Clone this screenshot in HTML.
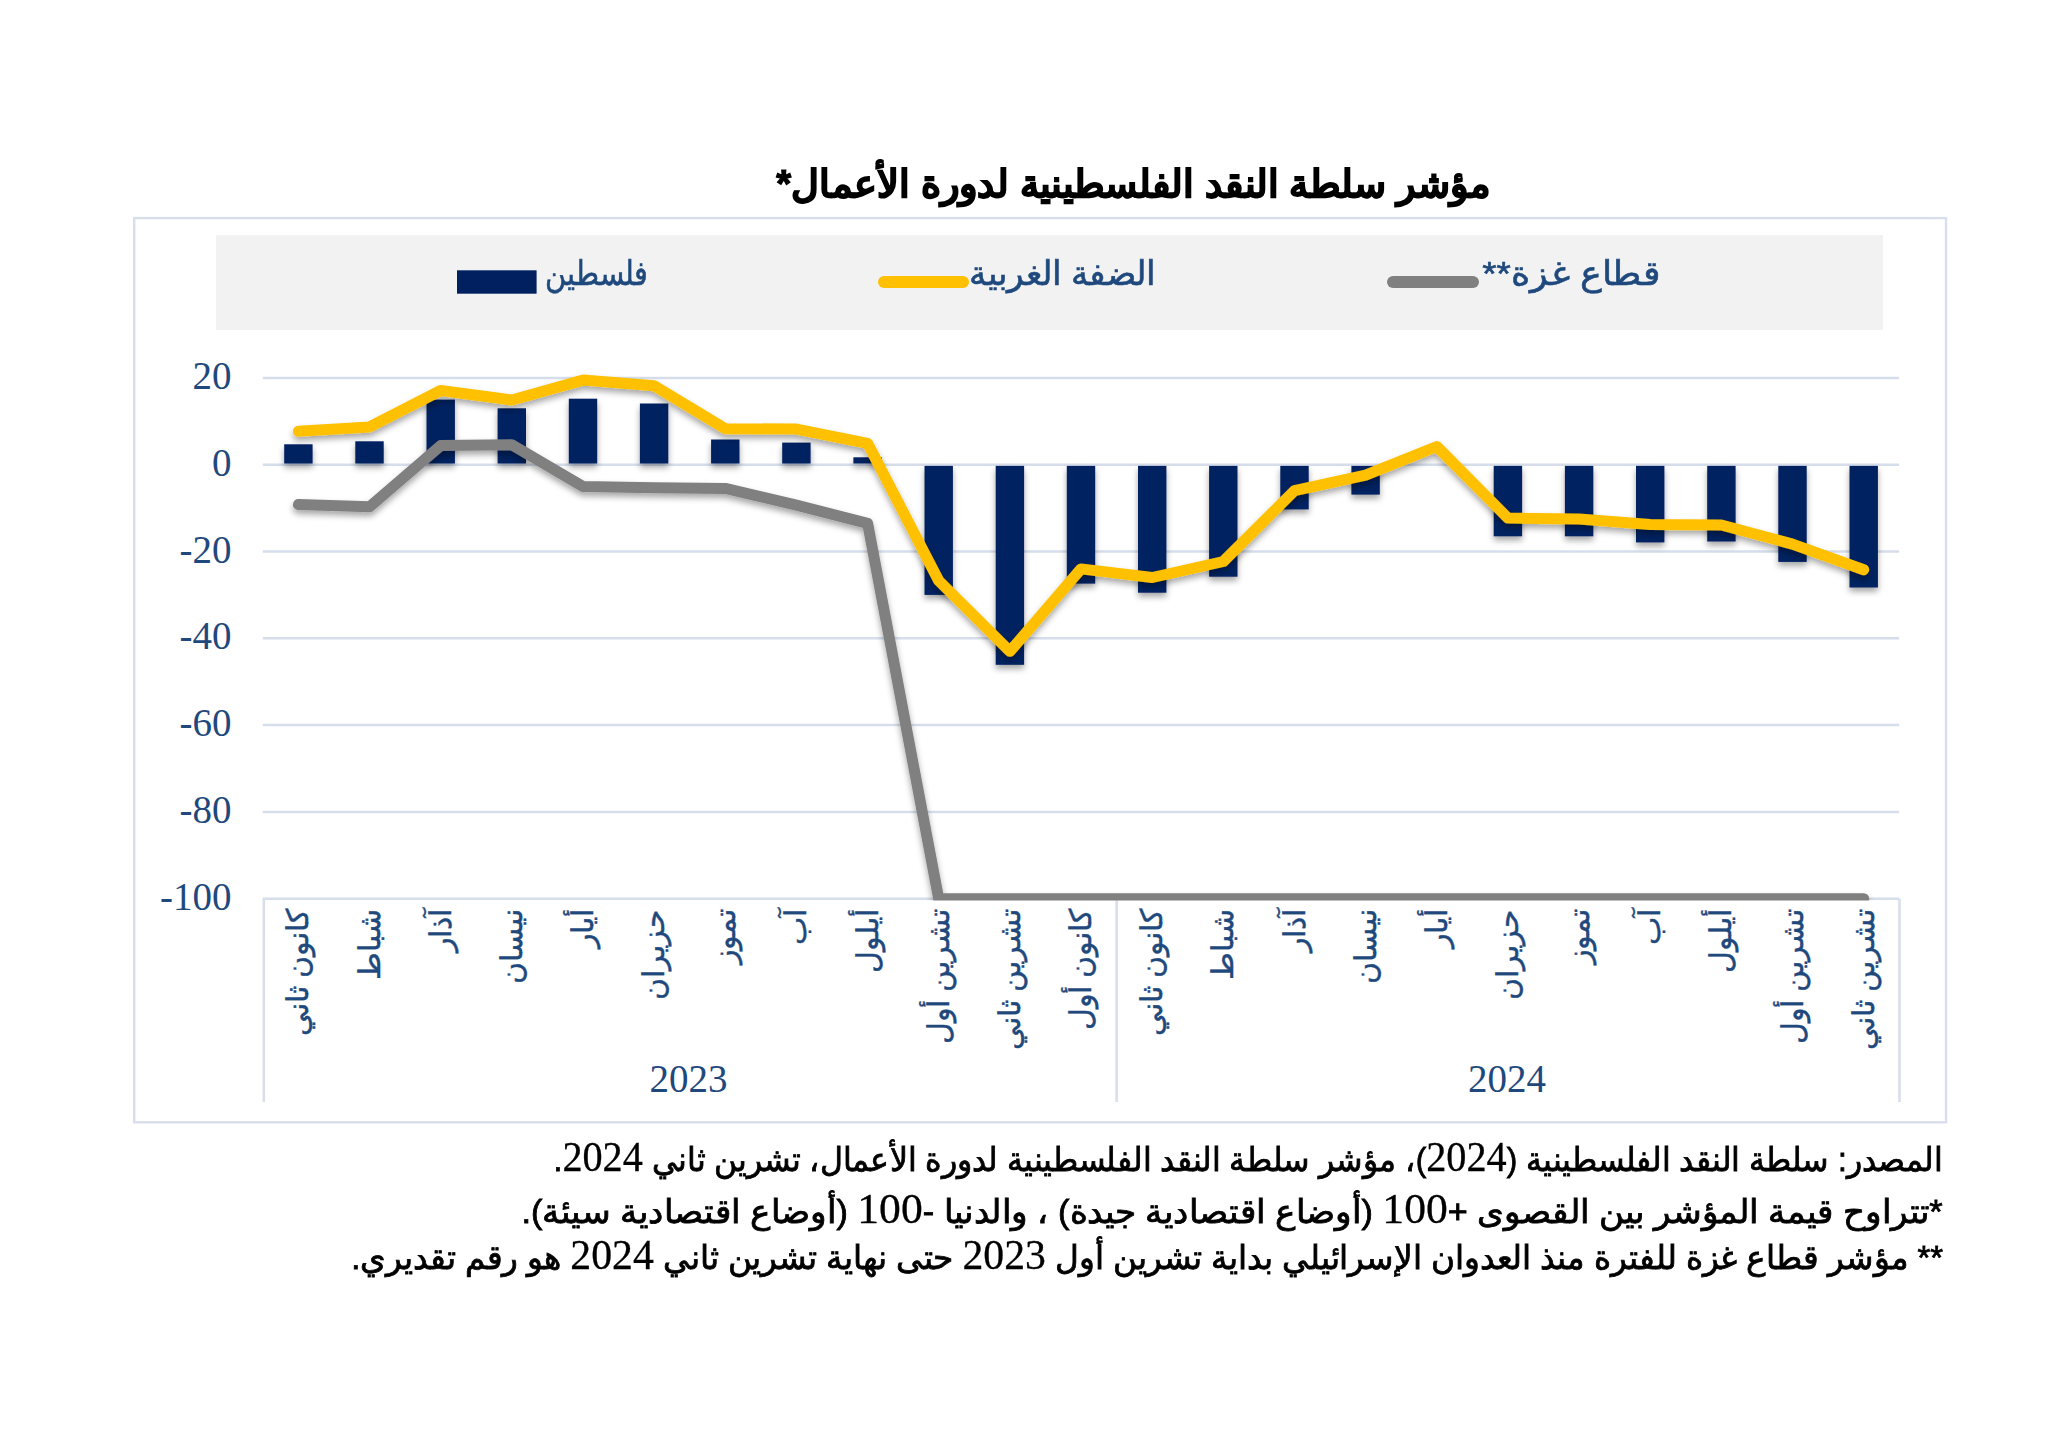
<!DOCTYPE html>
<html lang="ar"><head><meta charset="utf-8"><title>chart</title>
<style>
html,body{margin:0;padding:0;background:#fff;}
body{width:2048px;height:1436px;position:relative;overflow:hidden;font-family:"Liberation Sans",sans-serif;}
svg{position:absolute;left:0;top:0;}
.t{position:absolute;white-space:nowrap;}
.ar{direction:rtl;unicode-bidi:isolate;}
.num{font-family:"Liberation Serif",serif;color:#1F497D;font-size:39px;line-height:38px;text-align:right;width:120px;direction:ltr;}
.xl{position:absolute;left:0;top:0;width:300px;height:40px;line-height:40px;text-align:right;direction:rtl;white-space:nowrap;transform-origin:0 0;color:#1F497D;font-size:29.5px;-webkit-text-stroke:0.4px #1F497D;}
.leg{color:#1F497D;font-size:34px;line-height:44px;transform-origin:100% 50%;-webkit-text-stroke:0.6px #1F497D;}
.yr{font-family:"Liberation Serif",serif;color:#1F497D;font-size:39px;line-height:38px;}
.fn{color:#000;font-size:33px;line-height:44px;right:105px;text-align:right;-webkit-text-stroke:0.8px #000;transform-origin:100% 50%;}
.fn .d{font-family:"Liberation Serif",serif;font-size:42px;-webkit-text-stroke:0.3px #000;}
</style></head><body>

<svg width="2048" height="1436" viewBox="0 0 2048 1436"><defs><filter id="sh" x="-20%" y="-20%" width="140%" height="140%"><feDropShadow dx="0" dy="4" stdDeviation="3" flood-color="#000" flood-opacity="0.35"/></filter><clipPath id="pc"><rect x="0" y="0" width="2048" height="900.6"/></clipPath></defs><rect x="134.2" y="218.1" width="1811.8" height="904.1999999999999" fill="none" stroke="#D9DFEA" stroke-width="2.4"/><rect x="216" y="235" width="1667" height="95" fill="#F2F2F2"/><line x1="262.8" y1="377.9" x2="1899.2" y2="377.9" stroke="#D6DEEB" stroke-width="2.5"/><line x1="262.8" y1="464.7" x2="1899.2" y2="464.7" stroke="#D6DEEB" stroke-width="2.5"/><line x1="262.8" y1="551.5" x2="1899.2" y2="551.5" stroke="#D6DEEB" stroke-width="2.5"/><line x1="262.8" y1="638.3" x2="1899.2" y2="638.3" stroke="#D6DEEB" stroke-width="2.5"/><line x1="262.8" y1="725.1" x2="1899.2" y2="725.1" stroke="#D6DEEB" stroke-width="2.5"/><line x1="262.8" y1="811.9" x2="1899.2" y2="811.9" stroke="#D6DEEB" stroke-width="2.5"/><line x1="262.8" y1="898.7" x2="1899.2" y2="898.7" stroke="#D6DEEB" stroke-width="2.5"/><line x1="263.8" y1="898.7" x2="263.8" y2="1102" stroke="#D9DEEC" stroke-width="2.6"/><line x1="1116.6" y1="898.7" x2="1116.6" y2="1102" stroke="#D9DEEC" stroke-width="2.6"/><line x1="1899.5" y1="898.7" x2="1899.5" y2="1102" stroke="#D9DEEC" stroke-width="2.6"/><g clip-path="url(#pc)"><g filter="url(#sh)"><rect x="284.2" y="444.3" width="28.4" height="19.2" fill="#002060"/><rect x="355.3" y="441.3" width="28.4" height="22.2" fill="#002060"/><rect x="426.5" y="399.6" width="28.4" height="63.9" fill="#002060"/><rect x="497.6" y="408.3" width="28.4" height="55.2" fill="#002060"/><rect x="568.8" y="398.7" width="28.4" height="64.8" fill="#002060"/><rect x="639.9" y="403.5" width="28.4" height="60.0" fill="#002060"/><rect x="711.1" y="439.5" width="28.4" height="24.0" fill="#002060"/><rect x="782.2" y="442.6" width="28.4" height="20.9" fill="#002060"/><rect x="853.4" y="457.3" width="28.4" height="6.2" fill="#002060"/><rect x="924.5" y="465.9" width="28.4" height="129.0" fill="#002060"/><rect x="995.7" y="465.9" width="28.4" height="198.9" fill="#002060"/><rect x="1066.8" y="465.9" width="28.4" height="117.7" fill="#002060"/><rect x="1138.0" y="465.9" width="28.4" height="126.8" fill="#002060"/><rect x="1209.1" y="465.9" width="28.4" height="110.8" fill="#002060"/><rect x="1280.3" y="465.9" width="28.4" height="43.5" fill="#002060"/><rect x="1351.4" y="465.9" width="28.4" height="28.7" fill="#002060"/><rect x="1493.7" y="465.9" width="28.4" height="70.4" fill="#002060"/><rect x="1564.9" y="465.9" width="28.4" height="70.4" fill="#002060"/><rect x="1636.0" y="465.9" width="28.4" height="76.5" fill="#002060"/><rect x="1707.2" y="465.9" width="28.4" height="75.6" fill="#002060"/><rect x="1778.3" y="465.9" width="28.4" height="96.0" fill="#002060"/><rect x="1849.5" y="465.9" width="28.4" height="121.6" fill="#002060"/></g><polyline points="298.4,504.6 369.5,506.8 440.7,445.6 511.8,444.7 583.0,486.4 654.1,487.7 725.3,488.4 796.4,505.1 867.6,523.3 938.7,898.7 1009.9,898.7 1081.0,898.7 1152.2,898.7 1223.3,898.7 1294.5,898.7 1365.6,898.7 1436.8,898.7 1507.9,898.7 1579.1,898.7 1650.2,898.7 1721.4,898.7 1792.5,898.7 1863.7,898.7" fill="none" stroke="#808080" stroke-width="11" stroke-linejoin="round" stroke-linecap="round" filter="url(#sh)"/><polyline points="298.4,431.3 369.5,426.9 440.7,390.5 511.8,400.0 583.0,380.1 654.1,385.7 725.3,428.7 796.4,429.1 867.6,443.4 938.7,580.6 1009.9,651.3 1081.0,568.9 1152.2,577.5 1223.3,561.5 1294.5,490.7 1365.6,475.1 1436.8,446.5 1507.9,518.1 1579.1,519.0 1650.2,524.6 1721.4,525.0 1792.5,544.1 1863.7,569.7" fill="none" stroke="#FFC000" stroke-width="11" stroke-linejoin="round" stroke-linecap="round" filter="url(#sh)"/></g><line x1="1393" y1="282" x2="1473" y2="282" stroke="#808080" stroke-width="12" stroke-linecap="round"/><line x1="884" y1="282" x2="963" y2="282" stroke="#FFC000" stroke-width="12" stroke-linecap="round"/><rect x="457" y="270.3" width="79.6" height="23.4" fill="#002060"/></svg>
<div class="t ar" style="right:557.7px;top:159px;font-size:38px;line-height:50px;font-weight:bold;color:#000;-webkit-text-stroke:1.2px #000;transform-origin:100% 50%;transform:scaleX(1.008)">مؤشر سلطة النقد الفلسطينية لدورة الأعمال*</div>
<div class="t ar leg" style="right:388px;top:251px;transform:scaleX(1.078)">قطاع غزة**</div>
<div class="t ar leg" style="right:892.2px;top:251px;transform:scaleX(1.015)">الضفة الغربية</div>
<div class="t ar leg" style="right:1400.2px;top:251px;transform:scaleX(0.85)">فلسطين</div>
<div class="t num" style="left:111.5px;top:356.9px">20</div>
<div class="t num" style="left:111.5px;top:443.7px">0</div>
<div class="t num" style="left:111.5px;top:530.5px">-20</div>
<div class="t num" style="left:111.5px;top:617.3px">-40</div>
<div class="t num" style="left:111.5px;top:704.1px">-60</div>
<div class="t num" style="left:111.5px;top:790.9px">-80</div>
<div class="t num" style="left:111.5px;top:877.7px">-100</div>
<div class="xl" style="transform:translate(278.4px,1209px) rotate(-90deg)">كانون ثاني</div>
<div class="xl" style="transform:translate(349.5px,1209px) rotate(-90deg)">شباط</div>
<div class="xl" style="transform:translate(420.7px,1209px) rotate(-90deg)">آذار</div>
<div class="xl" style="transform:translate(491.8px,1209px) rotate(-90deg)">نيسان</div>
<div class="xl" style="transform:translate(563.0px,1209px) rotate(-90deg)">أيار</div>
<div class="xl" style="transform:translate(634.1px,1209px) rotate(-90deg)">حزيران</div>
<div class="xl" style="transform:translate(705.3px,1209px) rotate(-90deg)">تموز</div>
<div class="xl" style="transform:translate(776.4px,1209px) rotate(-90deg)">آب</div>
<div class="xl" style="transform:translate(847.6px,1209px) rotate(-90deg)">أيلول</div>
<div class="xl" style="transform:translate(918.7px,1209px) rotate(-90deg)">تشرين أول</div>
<div class="xl" style="transform:translate(989.9px,1209px) rotate(-90deg)">تشرين ثاني</div>
<div class="xl" style="transform:translate(1061.0px,1209px) rotate(-90deg)">كانون أول</div>
<div class="xl" style="transform:translate(1132.2px,1209px) rotate(-90deg)">كانون ثاني</div>
<div class="xl" style="transform:translate(1203.3px,1209px) rotate(-90deg)">شباط</div>
<div class="xl" style="transform:translate(1274.5px,1209px) rotate(-90deg)">آذار</div>
<div class="xl" style="transform:translate(1345.6px,1209px) rotate(-90deg)">نيسان</div>
<div class="xl" style="transform:translate(1416.8px,1209px) rotate(-90deg)">أيار</div>
<div class="xl" style="transform:translate(1487.9px,1209px) rotate(-90deg)">حزيران</div>
<div class="xl" style="transform:translate(1559.1px,1209px) rotate(-90deg)">تموز</div>
<div class="xl" style="transform:translate(1630.2px,1209px) rotate(-90deg)">آب</div>
<div class="xl" style="transform:translate(1701.4px,1209px) rotate(-90deg)">أيلول</div>
<div class="xl" style="transform:translate(1772.5px,1209px) rotate(-90deg)">تشرين أول</div>
<div class="xl" style="transform:translate(1843.7px,1209px) rotate(-90deg)">تشرين ثاني</div>
<div class="t yr" style="left:649.5px;top:1060px">2023</div>
<div class="t yr" style="left:1468px;top:1060px">2024</div>
<div class="t ar fn" style="top:1134.5px;transform:scaleX(0.9582)">المصدر: سلطة النقد الفلسطينية (<span class="d">2024</span>)، مؤشر سلطة النقد الفلسطينية لدورة الأعمال، تشرين ثاني <span class="d">2024</span>.</div>
<div class="t ar fn" style="top:1186.5px;transform:scaleX(1.0376)">*تتراوح قيمة المؤشر بين القصوى +<span class="d">100</span> (أوضاع اقتصادية جيدة) ، والدنيا -<span class="d">100</span> (أوضاع اقتصادية سيئة).</div>
<div class="t ar fn" style="top:1232.5px;transform:scaleX(0.993)">** مؤشر قطاع غزة للفترة منذ العدوان الإسرائيلي بداية تشرين أول <span class="d">2023</span> حتى نهاية تشرين ثاني <span class="d">2024</span> هو رقم تقديري.</div>
</body></html>
